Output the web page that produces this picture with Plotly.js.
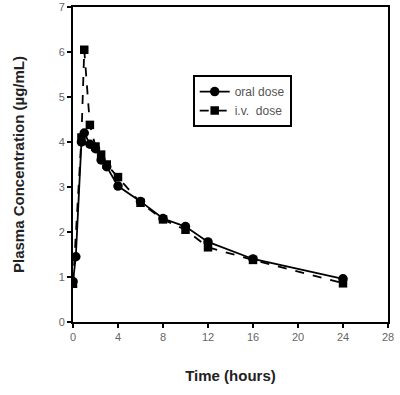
<!DOCTYPE html>
<html><head><meta charset="utf-8">
<script src="https://cdn.plot.ly/plotly-3.0.1.min.js"></script>
<style>html,body{margin:0;padding:0;background:#fff}</style>
</head><body>
<div id="chart" style="width:400px;height:395px"></div>
<script>
const oralTime = [0, 0.25, 0.75, 1, 1.5, 2, 2.5, 3, 4, 6, 8, 10, 12, 16, 24];
const oralConc = [0.9, 1.45, 4.0, 4.2, 3.95, 3.85, 3.6, 3.45, 3.02, 2.68, 2.3, 2.12, 1.78, 1.4, 0.96];
const ivTime = [0, 0.75, 1, 1.5, 2, 2.5, 3, 4, 6, 8, 10, 12, 16, 24];
const ivConc = [0.85, 4.1, 6.05, 4.38, 3.9, 3.72, 3.5, 3.22, 2.65, 2.28, 2.05, 1.66, 1.38, 0.86];
const xTicks = [0, 4, 8, 12, 16, 20, 24, 28];
const yTicks = [0, 1, 2, 3, 4, 5, 6, 7];

const traces = [
  {x: oralTime, y: oralConc, name: 'oral dose', mode: 'lines+markers',
   line: {color: '#000', width: 1.8}, marker: {symbol: 'circle', size: 9.5, color: '#000'}},
  {x: ivTime, y: ivConc, name: 'i.v.  dose', mode: 'lines+markers',
   line: {color: '#000', width: 1.8, dash: 'dash'}, marker: {symbol: 'square', size: 8.5, color: '#000'}}
];
const axisCommon = {showgrid: false, zeroline: false, showline: true, linecolor: '#000', linewidth: 2,
  mirror: true, ticks: 'outside', ticklen: 4, tickwidth: 2, tickcolor: '#000',
  tickfont: {family: 'Liberation Sans, Arial, sans-serif', size: 11, color: '#666'}};
const titleFont = {family: 'Liberation Sans, Arial, sans-serif', size: 15, color: '#222', weight: 'bold'};
const layout = {
  width: 400, height: 395,
  margin: {l: 73, r: 12, t: 7, b: 73},
  paper_bgcolor: '#fff', plot_bgcolor: '#fff',
  showlegend: true,
  legend: {x: 0.38, y: 0.784, xanchor: 'left', yanchor: 'top', bordercolor: '#000', borderwidth: 2,
    bgcolor: '#fff', font: {family: 'Liberation Sans, Arial, sans-serif', size: 12, color: '#555'},
    tracegroupgap: 0, itemwidth: 30},
  xaxis: Object.assign({}, axisCommon, {range: [0, 28], tickvals: xTicks,
    title: {text: 'Time (hours)', font: titleFont, standoff: 28}}),
  yaxis: Object.assign({}, axisCommon, {range: [0, 7], tickvals: yTicks,
    title: {text: 'Plasma Concentration (µg/mL)', font: titleFont, standoff: 30}})
};
Plotly.newPlot('chart', traces, layout, {displayModeBar: false, staticPlot: true});
</script>
</body></html>
